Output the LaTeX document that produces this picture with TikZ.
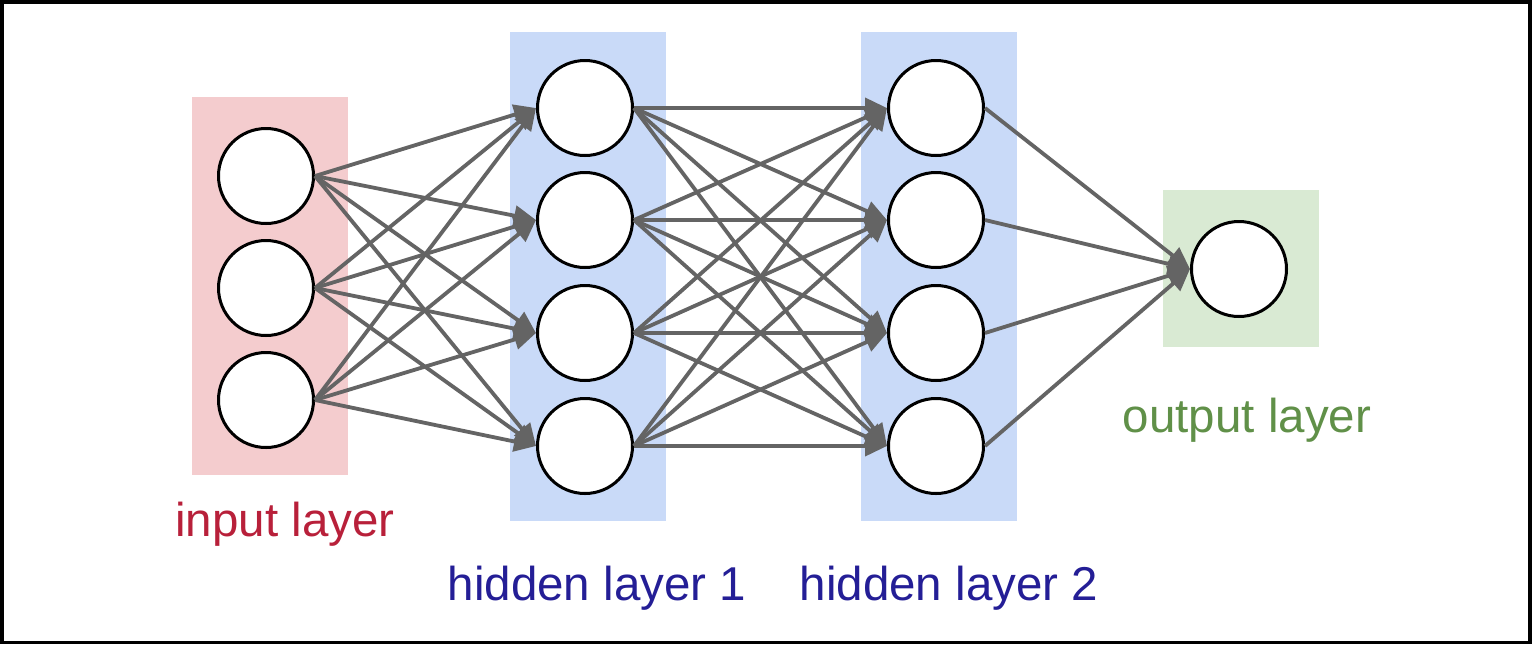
\documentclass[tikz,border=0pt]{standalone}
\usepackage{fontspec}
\setmainfont{Liberation Sans}
\usetikzlibrary{arrows.meta}
\definecolor{inpink}{RGB}{244,204,206}
\definecolor{hidblue}{RGB}{201,218,248}
\definecolor{outgreen}{RGB}{217,234,211}
\definecolor{edgegray}{RGB}{100,100,100}
\definecolor{inred}{RGB}{184,32,58}
\definecolor{hidtext}{RGB}{36,30,150}
\definecolor{outtext}{RGB}{96,144,72}
\begin{document}
\begin{tikzpicture}[x=0.5pt,y=-0.5pt,
  neuron/.style={circle,draw=black,line width=1.5pt,fill=white,minimum size=47.5pt,inner sep=0pt},
  conn/.style={draw=edgegray,line width=1.9pt,-{Triangle[length=11pt,width=10pt]}},
  lbl/.style={font=\fontsize{23.75}{28}\selectfont,anchor=base,inner sep=0pt}]
\useasboundingbox (0,0) rectangle (1532,644);
\fill[black] (0,0) rectangle (1532,644);
\fill[white] (4,4) rectangle (1528,641);
% layer backgrounds
\fill[inpink] (192,97) rectangle (348,475);
\fill[hidblue] (510,32) rectangle (666,521);
\fill[hidblue] (861,32) rectangle (1017,521);
\fill[outgreen] (1163,190) rectangle (1319,347);
% neurons
\node[neuron] (i1) at (266,176) {};
\node[neuron] (i2) at (266,288) {};
\node[neuron] (i3) at (266,400) {};
\node[neuron] (a1) at (585,108) {};
\node[neuron] (a2) at (585,220) {};
\node[neuron] (a3) at (585,333) {};
\node[neuron] (a4) at (585,446) {};
\node[neuron] (b1) at (936,108) {};
\node[neuron] (b2) at (936,220) {};
\node[neuron] (b3) at (936,333) {};
\node[neuron] (b4) at (936,446) {};
\node[neuron] (o) at (1239,269) {};
% connections
\foreach \s in {1,2,3}{\foreach \t in {1,2,3,4}{\draw[conn] (i\s.east) -- (a\t.west);}}
\foreach \s in {1,2,3,4}{\foreach \t in {1,2,3,4}{\draw[conn] (a\s.east) -- (b\t.west);}}
\foreach \s in {1,2,3,4}{\draw[conn] (b\s.east) -- (o.west);}
% labels
\node[lbl,text=inred] (lin) at (285,536) {input layer};
\node[lbl,text=hidtext] (lh1) at (597,600) {hidden layer 1};
\node[lbl,text=hidtext] (lh2) at (949,600) {hidden layer 2};
\node[lbl,text=outtext] (lout) at (1247,432) {output layer};
\end{tikzpicture}
\end{document}
